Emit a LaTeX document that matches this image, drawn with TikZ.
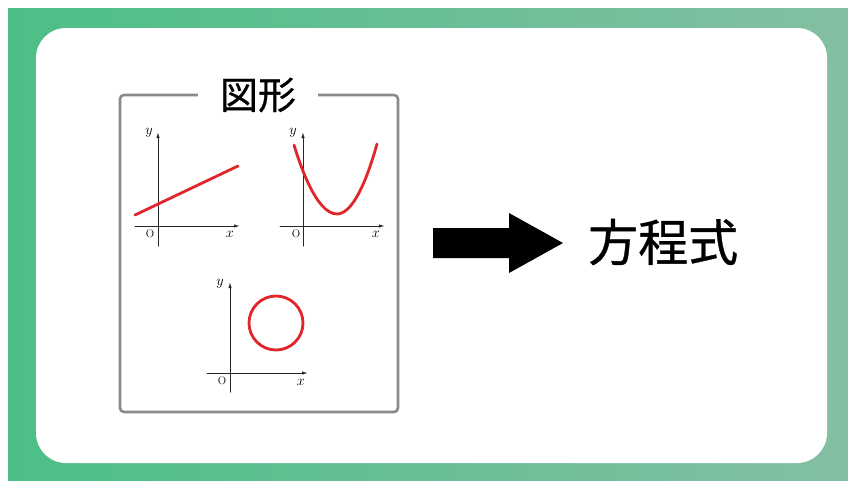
\documentclass[tikz,border=0pt]{standalone}
\usepackage{fontspec}
\newfontfamily\cjk[FakeBold=0.7]{Noto Sans CJK JP}
\usetikzlibrary{arrows.meta}
\definecolor{bandleft}{HTML}{4CBF86}
\definecolor{bandright}{HTML}{84BFA3}
\definecolor{framegray}{HTML}{8A8A8A}
\definecolor{curvered}{HTML}{E0262A}

\begin{document}
\begin{tikzpicture}[
  x=1pt,
  y=-1pt,
  line join=round,
  line cap=round,
  card/.style={fill=white,rounded corners=30pt},
  frame/.style={draw=framegray,line width=2.6pt,rounded corners=4pt},
  axis/.style={draw=black!85,line width=1pt,-{Latex[length=6pt,width=3.4pt]}},
  curve/.style={draw=curvered,line width=2.8pt},
  tick/.style={font=\fontsize{15}{15}\selectfont,inner sep=0pt},
  origin/.style={font=\fontsize{11}{11}\selectfont,inner sep=0pt},
  title/.style={font=\cjk\fontsize{38}{38}\selectfont,fill=white,inner xsep=22pt,inner ysep=0pt},
  result/.style={font=\cjk\fontsize{50}{50}\selectfont,inner sep=0pt}
]
  \useasboundingbox (0,0) rectangle (848,480);

  % Green band behind the white card.
  \fill[white] (0,0) rectangle (848,480);
  \shade[left color=bandleft,right color=bandright] (8,8) rectangle (848,480);
  \fill[card] (36,28) rectangle (827,463);

  % Grey frame around the three graphs, cut by its title.
  \draw[frame] (120,95) rectangle (398,412);
  \node[title] (shapes) at (258,95) {図形};

  % Straight line.
  \coordinate (aO) at (158,226);
  \coordinate (aX) at (240,226);
  \coordinate (aY) at (158,132);
  \draw[axis] (135,226) -- (aX);
  \draw[axis] (158,246) -- (aY);
  \node[tick] (ay) at (149,133) {$y$};
  \node[origin] (ao) at (150,234) {O};
  \node[tick] (ax) at (230,234) {$x$};
  \draw[curve] (135,215) -- (238,166);

  % Parabola.
  \coordinate (bO) at (303,226);
  \coordinate (bX) at (385,226);
  \coordinate (bY) at (303,132);
  \draw[axis] (280,226) -- (bX);
  \draw[axis] (303,246) -- (bY);
  \node[tick] (by) at (293,133) {$y$};
  \node[origin] (bo) at (296,234) {O};
  \node[tick] (bx) at (376,234) {$x$};
  \draw[curve] (294,145) parabola bend (337,214) (377,144);

  % Circle.
  \coordinate (cO) at (230,373);
  \coordinate (cX) at (308,373);
  \coordinate (cY) at (230,282);
  \draw[axis] (207,373) -- (cX);
  \draw[axis] (230,392) -- (cY);
  \node[tick] (cy) at (220,284) {$y$};
  \node[origin] (co) at (222,381) {O};
  \node[tick] (cx) at (301,382) {$x$};
  \draw[curve] (276,323) circle[radius=27];

  % Fat arrow towards the equation.
  \coordinate (tail) at (433,243);
  \coordinate (tip) at (563,243);
  \fill[black] (433,228) -- (509,228) -- (509,213) -- (tip) -- (509,273)
    -- (509,258) -- (433,258) -- cycle;
  \node[result,anchor=west] (eqn) at (588,242) {方程式};
\end{tikzpicture}
\end{document}
